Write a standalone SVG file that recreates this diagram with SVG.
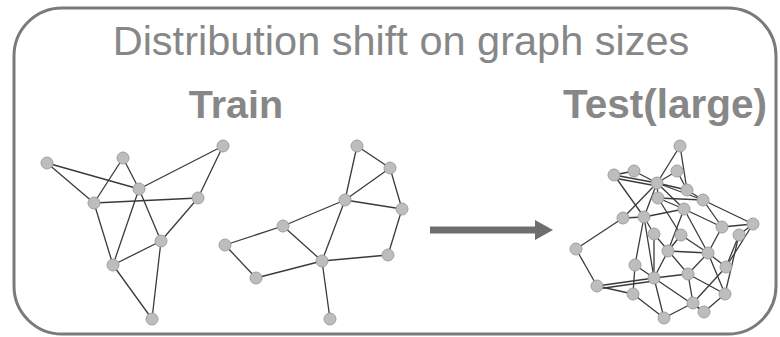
<svg xmlns="http://www.w3.org/2000/svg" width="780" height="337" viewBox="0 0 780 337">
<style>
.frame{fill:none;stroke:#7a7a7a;stroke-width:3}
.t{font-family:"Liberation Sans",Arial,sans-serif;fill:#878787}
.e line{stroke:#3a3a3a;stroke-width:1.3}
.n circle{fill:#bdbdbd;stroke:#a0a0a0;stroke-width:1}
</style>
<rect class="frame" x="14" y="8" width="762" height="326" rx="48" ry="48"/>
<text class="t" x="401" y="55" font-size="41.5" text-anchor="middle">Distribution shift on graph sizes</text>
<text class="t" x="236" y="118" font-size="39.5" font-weight="bold" text-anchor="middle">Train</text>
<text class="t" x="665" y="118" font-size="40.5" font-weight="bold" text-anchor="middle">Test(large)</text>
<g id="arrow">
<line x1="430" y1="230" x2="537" y2="230" stroke="#6e6e6e" stroke-width="7"/>
<polygon points="535,220 553,230 535,240" fill="#6e6e6e"/>
</g>
<g id="connectors" class="e">
<line x1="47" y1="163" x2="139" y2="189"/>
<line x1="47" y1="163" x2="94" y2="203"/>
<line x1="123" y1="158" x2="94" y2="203"/>
<line x1="123" y1="158" x2="139" y2="189"/>
<line x1="139" y1="189" x2="161" y2="241"/>
<line x1="139" y1="189" x2="223" y2="146"/>
<line x1="223" y1="146" x2="198" y2="198"/>
<line x1="94" y1="203" x2="198" y2="198"/>
<line x1="198" y1="198" x2="161" y2="241"/>
<line x1="139" y1="189" x2="113" y2="265"/>
<line x1="94" y1="203" x2="113" y2="265"/>
<line x1="113" y1="265" x2="161" y2="241"/>
<line x1="113" y1="265" x2="152" y2="319"/>
<line x1="161" y1="241" x2="152" y2="319"/>
<line x1="357" y1="146" x2="390" y2="168"/>
<line x1="357" y1="146" x2="345" y2="200"/>
<line x1="390" y1="168" x2="345" y2="200"/>
<line x1="390" y1="168" x2="402" y2="209"/>
<line x1="345" y1="200" x2="402" y2="209"/>
<line x1="345" y1="200" x2="283" y2="226"/>
<line x1="345" y1="200" x2="322" y2="261"/>
<line x1="283" y1="226" x2="225" y2="245"/>
<line x1="283" y1="226" x2="322" y2="261"/>
<line x1="225" y1="245" x2="256" y2="278"/>
<line x1="256" y1="278" x2="322" y2="261"/>
<line x1="322" y1="261" x2="388" y2="255"/>
<line x1="388" y1="255" x2="402" y2="209"/>
<line x1="322" y1="261" x2="330" y2="319"/>
<line x1="680" y1="146" x2="657" y2="183"/>
<line x1="680" y1="146" x2="687" y2="190"/>
<line x1="677" y1="171" x2="657" y2="183"/>
<line x1="677" y1="171" x2="687" y2="190"/>
<line x1="614" y1="175" x2="634" y2="171"/>
<line x1="614" y1="175" x2="657" y2="183"/>
<line x1="614" y1="178" x2="657" y2="186"/>
<line x1="634" y1="171" x2="657" y2="183"/>
<line x1="614" y1="175" x2="644" y2="217"/>
<line x1="657" y1="183" x2="658" y2="198"/>
<line x1="657" y1="183" x2="687" y2="190"/>
<line x1="657" y1="183" x2="703" y2="200"/>
<line x1="657" y1="183" x2="684" y2="209"/>
<line x1="657" y1="183" x2="623" y2="218"/>
<line x1="657" y1="183" x2="644" y2="217"/>
<line x1="658" y1="198" x2="684" y2="209"/>
<line x1="658" y1="198" x2="703" y2="200"/>
<line x1="658" y1="198" x2="681" y2="235"/>
<line x1="687" y1="190" x2="703" y2="200"/>
<line x1="703" y1="200" x2="753" y2="224"/>
<line x1="703" y1="200" x2="722" y2="227"/>
<line x1="684" y1="209" x2="722" y2="227"/>
<line x1="684" y1="209" x2="708" y2="253"/>
<line x1="684" y1="209" x2="668" y2="251"/>
<line x1="684" y1="209" x2="644" y2="217"/>
<line x1="623" y1="218" x2="644" y2="217"/>
<line x1="623" y1="218" x2="576" y2="249"/>
<line x1="644" y1="217" x2="654" y2="234"/>
<line x1="644" y1="217" x2="635" y2="265"/>
<line x1="644" y1="217" x2="654" y2="278"/>
<line x1="753" y1="224" x2="722" y2="227"/>
<line x1="753" y1="224" x2="739" y2="235"/>
<line x1="753" y1="224" x2="726" y2="267"/>
<line x1="739" y1="235" x2="726" y2="267"/>
<line x1="739" y1="235" x2="725" y2="294"/>
<line x1="722" y1="227" x2="708" y2="253"/>
<line x1="654" y1="234" x2="654" y2="278"/>
<line x1="654" y1="234" x2="688" y2="274"/>
<line x1="681" y1="235" x2="708" y2="253"/>
<line x1="681" y1="235" x2="668" y2="251"/>
<line x1="668" y1="251" x2="654" y2="278"/>
<line x1="668" y1="251" x2="708" y2="253"/>
<line x1="708" y1="253" x2="726" y2="267"/>
<line x1="708" y1="253" x2="688" y2="274"/>
<line x1="708" y1="253" x2="725" y2="294"/>
<line x1="576" y1="249" x2="597" y2="286"/>
<line x1="635" y1="265" x2="654" y2="278"/>
<line x1="635" y1="265" x2="633" y2="294"/>
<line x1="597" y1="286" x2="654" y2="278"/>
<line x1="597" y1="289" x2="654" y2="281"/>
<line x1="597" y1="286" x2="633" y2="294"/>
<line x1="654" y1="278" x2="688" y2="274"/>
<line x1="654" y1="278" x2="704" y2="312"/>
<line x1="654" y1="278" x2="664" y2="318"/>
<line x1="633" y1="294" x2="664" y2="318"/>
<line x1="688" y1="274" x2="693" y2="303"/>
<line x1="688" y1="274" x2="725" y2="294"/>
<line x1="664" y1="318" x2="693" y2="303"/>
<line x1="693" y1="303" x2="704" y2="312"/>
<line x1="704" y1="312" x2="725" y2="294"/>
<line x1="726" y1="267" x2="693" y2="303"/>
</g>
<g id="graph1" class="n">
<circle cx="47" cy="163" r="6"/>
<circle cx="123" cy="158" r="6"/>
<circle cx="139" cy="189" r="6"/>
<circle cx="94" cy="203" r="6"/>
<circle cx="198" cy="198" r="6"/>
<circle cx="161" cy="241" r="6"/>
<circle cx="113" cy="265" r="6"/>
<circle cx="152" cy="319" r="6"/>
<circle cx="223" cy="146" r="6"/>
</g>
<g id="graph2" class="n">
<circle cx="357" cy="146" r="6"/>
<circle cx="390" cy="168" r="6"/>
<circle cx="345" cy="200" r="6"/>
<circle cx="402" cy="209" r="6"/>
<circle cx="283" cy="226" r="6"/>
<circle cx="225" cy="245" r="6"/>
<circle cx="388" cy="255" r="6"/>
<circle cx="322" cy="261" r="6"/>
<circle cx="256" cy="278" r="6"/>
<circle cx="330" cy="319" r="6"/>
</g>
<g id="graph3" class="n">
<circle cx="680" cy="146" r="6"/>
<circle cx="614" cy="175" r="6"/>
<circle cx="634" cy="171" r="6"/>
<circle cx="677" cy="171" r="6"/>
<circle cx="657" cy="183" r="6"/>
<circle cx="687" cy="190" r="6"/>
<circle cx="658" cy="198" r="6"/>
<circle cx="703" cy="200" r="6"/>
<circle cx="684" cy="209" r="6"/>
<circle cx="623" cy="218" r="6"/>
<circle cx="644" cy="217" r="6"/>
<circle cx="753" cy="224" r="6"/>
<circle cx="722" cy="227" r="6"/>
<circle cx="739" cy="235" r="6"/>
<circle cx="654" cy="234" r="6"/>
<circle cx="681" cy="235" r="6"/>
<circle cx="576" cy="249" r="6"/>
<circle cx="668" cy="251" r="6"/>
<circle cx="708" cy="253" r="6"/>
<circle cx="635" cy="265" r="6"/>
<circle cx="726" cy="267" r="6"/>
<circle cx="688" cy="274" r="6"/>
<circle cx="654" cy="278" r="6"/>
<circle cx="597" cy="286" r="6"/>
<circle cx="633" cy="294" r="6"/>
<circle cx="725" cy="294" r="6"/>
<circle cx="693" cy="303" r="6"/>
<circle cx="704" cy="312" r="6"/>
<circle cx="664" cy="318" r="6"/>
</g>
</svg>
